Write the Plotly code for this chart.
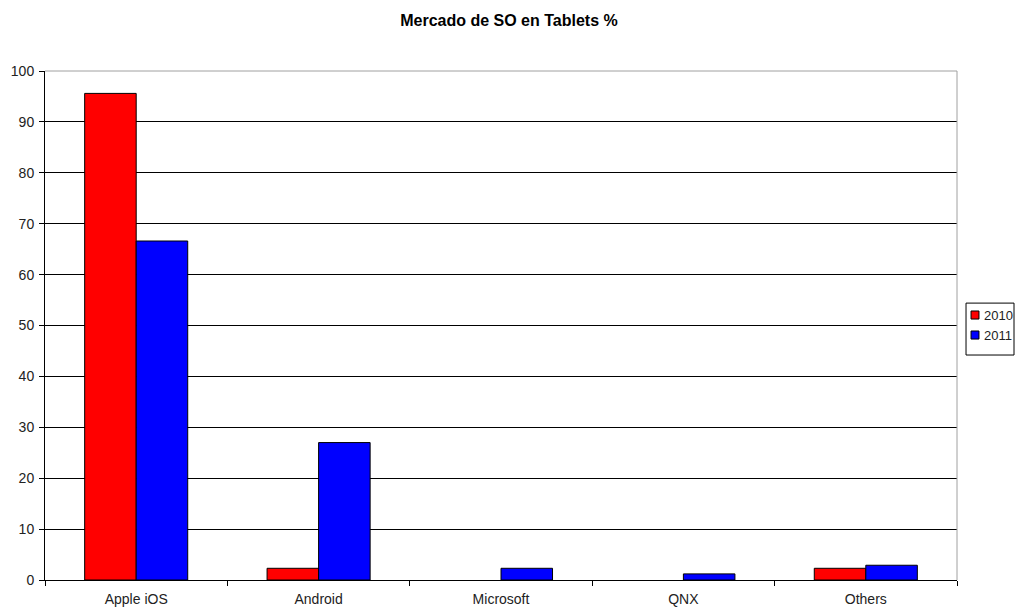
import plotly.graph_objects as go

# Datos
sistemas = ["Apple iOS", "Android", "Microsoft", "QNX", "Others"]
anios = ["2010", "2011"]
cuota_2010 = [95.6, 2.3, None, None, 2.3]
cuota_2011 = [66.6, 27.0, 2.3, 1.2, 2.9]
colores = ["#ff0000", "#0000ff"]

fig = go.Figure()
for anio, cuota, color in zip(anios, [cuota_2010, cuota_2011], colores):
    fig.add_trace(go.Bar(x=sistemas, y=cuota, name=anio,
                         marker=dict(color=color, line=dict(color="#000000", width=1))))

# la página añade 8px de margen, así que la figura es algo más pequeña
fig.update_layout(
    width=1008, height=600,
    margin=dict(l=37, r=59, t=63, b=28, autoexpand=False),
    paper_bgcolor="white", plot_bgcolor="white",
    font=dict(family="Liberation Sans, Arial", size=14, color="#222222"),
    title=dict(text="<b>Mercado de SO en Tablets %</b>", x=0.497, xanchor="center",
               y=0.98, yanchor="middle", font=dict(size=16, color="#000000")),
    barmode="group", bargap=0.435, bargroupgap=0,
    showlegend=False,
    xaxis=dict(showline=True, linecolor="#000000", linewidth=1,
               ticks="outside", ticklen=5, tickcolor="#000000",
               tickson="boundaries", showgrid=False, ticklabelstandoff=6),
    yaxis=dict(range=[0, 100], dtick=10, showline=True, linecolor="#000000",
               linewidth=1, ticks="outside", ticklen=5, tickcolor="#000000",
               showgrid=True, gridcolor="#000000", gridwidth=1,
               zeroline=False, ticklabelstandoff=2),
)

# marco gris superior y derecho del área de trazado
fig.add_shape(type="line", xref="paper", yref="paper", x0=0, x1=1, y0=1, y1=1,
              line=dict(color="#a0a0a0", width=1), layer="above")
fig.add_shape(type="line", xref="paper", yref="paper", x0=1, x1=1, y0=0, y1=1,
              line=dict(color="#a0a0a0", width=1), layer="above")

# leyenda compacta al estilo Excel
fig.add_shape(type="rect", xref="paper", yref="paper", x0=1.0099, x1=1.0625,
              y0=0.442, y1=0.544, line=dict(color="#000000", width=1),
              fillcolor="white")
for i, (anio, color) in enumerate(zip(anios, colores)):
    yc = 0.5206 - i * 0.0393
    fig.add_shape(type="rect", xref="paper", yref="paper", x0=1.0154, x1=1.0241,
                  y0=yc - 0.0079, y1=yc + 0.0079, fillcolor=color,
                  line=dict(color="#000000", width=1))
    fig.add_annotation(text=anio, xref="paper", yref="paper", x=1.0274, y=yc,
                       xanchor="left", yanchor="middle", showarrow=False,
                       font=dict(size=13, color="#222222"))

fig.write_html("out.html")
